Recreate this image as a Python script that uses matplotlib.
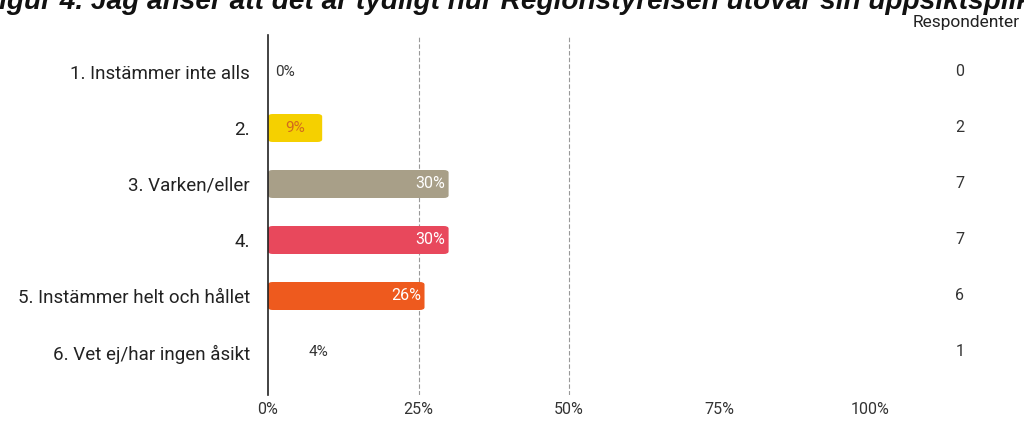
import matplotlib
matplotlib.use("Agg")
import matplotlib.pyplot as plt
from matplotlib.patches import FancyBboxPatch

categories = ["1. Instämmer inte alls", "2.", "3. Varken/eller", "4.",
              "5. Instämmer helt och hållet", "6. Vet ej/har ingen åsikt"]
percent = [0, 9, 30, 30, 26, 4]
respondents = [0, 2, 7, 7, 6, 1]
colors = ["#F5D000", "#F5D000", "#A89F88", "#E8485C", "#EE5A1E", "#F5D000"]
xticks = [0, 25, 50, 75, 100]
xticklabels = ["0%", "25%", "50%", "75%", "100%"]
title = "Figur 4. Jag anser att det är tydligt hur Regionstyrelsen utövar sin uppsiktsplikt"

plt.rcParams['font.family'] = ['Roboto', 'DejaVu Sans']

fig = plt.figure(figsize=(10.24, 4.21), dpi=100)
W, H = 1024, 421
x0, x100 = 268, 870
ytop, ybot = 35, 395
ax = fig.add_axes([x0 / W, 1 - ybot / H, (x100 - x0) / W, (ybot - ytop) / H])
ax.set_xlim(0, 100)
row_px = 56.0
first_px = 72.0
ax.set_ylim((ybot - first_px) / row_px, -(first_px - ytop) / row_px)

for sp in ["top", "right", "bottom"]:
    ax.spines[sp].set_visible(False)
ax.spines["left"].set_color("#222222")
ax.spines["left"].set_linewidth(1.2)

for g in [25, 50]:
    ax.axvline(g, color="#999999", lw=0.8, ls=(0, (4, 2)), zorder=0)

bh = 0.5
for i, (p, c) in enumerate(zip(percent, colors)):
    if p >= 5:
        ax.add_patch(FancyBboxPatch((0, i - bh / 2), p, bh,
                                    boxstyle="round,pad=0,rounding_size=0.8",
                                    mutation_aspect=0.06,
                                    fc=c, ec="none", zorder=2))
    if p < 5:
        ax.text(p + 2.8 if p > 0 else 1.2, i, f"{p}%", ha="left", va="center",
                fontsize=11, color="#333333")
    elif p < 15:
        ax.text(p / 2, i, f"{p}%", ha="center", va="center",
                fontsize=11, color="#D2691E")
    else:
        ax.text(p - 0.6, i, f"{p}%", ha="right", va="center",
                fontsize=11.5, color="white")

ax.set_yticks(range(len(categories)))
ax.set_yticklabels(categories, fontsize=13.5, color="#222222")
ax.tick_params(axis="y", length=0, pad=13)
ax.set_xticks(xticks)
ax.set_xticklabels(xticklabels, fontsize=11.5, color="#333333")
ax.tick_params(axis="x", length=0, pad=5)

for i, r in enumerate(respondents):
    fig.text(960 / W, 1 - (first_px + i * row_px) / H, str(r), ha="center",
             va="center", fontsize=11.5, color="#333333")
fig.text(1020 / W, 1 - 22 / H, "Respondenter", ha="right", va="center",
         fontsize=12.5, color="#222222")

fig.text(-18 / W, 1 - 9 / H, title, ha="left", va="baseline",
         fontsize=20.2, fontweight="bold", style="italic",
         family=["Liberation Sans", "DejaVu Sans"], color="#111111")

fig.savefig("out.png", dpi=100, facecolor="white")
